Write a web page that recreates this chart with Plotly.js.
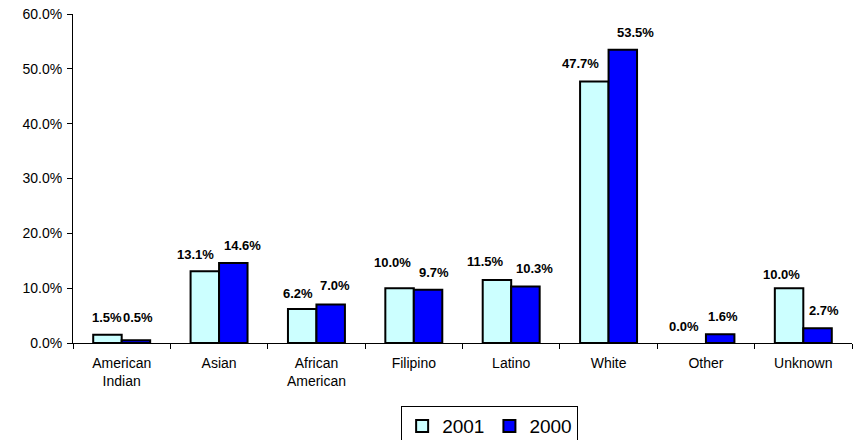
<!DOCTYPE html>
<html>
<head>
<meta charset="utf-8">
<script src="https://cdn.plot.ly/plotly-3.0.1.min.js"></script>
<style>html,body{margin:0;padding:0;background:#fff;}#chart{width:856px;height:440px;}</style>
</head>
<body>
<div id="chart"></div>
<script>
var categories = ["American<br>Indian", "Asian", "African<br>American", "Filipino", "Latino", "White", "Other", "Unknown"];
var series2001 = [1.5, 13.1, 6.2, 10.0, 11.5, 47.7, 0.0, 10.0];
var series2000 = [0.5, 14.6, 7.0, 9.7, 10.3, 53.5, 1.6, 2.7];
var seriesNames = ["2001", "2000"];
var yTickVals = [0, 10, 20, 30, 40, 50, 60];
var yTickText = yTickVals.map(function (v) { return v.toFixed(1) + "%"; });

// label nudges in pixels (style only), as placed in the reference
var labelDx = [[0, -9, -4, -7, -11, -14, -8, -8], [2, 9, 4, 6, 9, 13, 3, 6]];
var labelDy = [[0, 0, -1, 9, 1, 1, 0, -3], [6, 0, 2, 0, 1, 0, 1, 1]];

var colors = ["#CCFFFF", "#0000FF"];
var allSeries = [series2001, series2000];

var traces = allSeries.map(function (vals, k) {
  return {
    type: "bar",
    name: seriesNames[k],
    x: categories,
    y: vals,
    marker: {
      color: colors[k],
      line: { color: "#000000", width: vals.map(function (v) { return v === 0 ? 0 : 2; }) }
    },
    hoverinfo: "skip"
  };
});

var annotations = [];
var barOffset = 0.147;
allSeries.forEach(function (vals, k) {
  vals.forEach(function (v, i) {
    annotations.push({
      x: i + (k === 0 ? -barOffset : barOffset),
      y: v,
      xref: "x",
      yref: "y",
      text: v.toFixed(1) + "%",
      showarrow: false,
      xanchor: "center",
      yanchor: "middle",
      xshift: labelDx[k][i],
      yshift: 17 + labelDy[k][i],
      font: { family: "Liberation Sans, Arial, sans-serif", size: 13, color: "#000000", weight: "bold" }
    });
  });
});

var layout = {
  width: 856,
  height: 440,
  margin: { l: 73, r: 4, t: 14, b: 97 },
  paper_bgcolor: "#ffffff",
  plot_bgcolor: "#ffffff",
  barmode: "group",
  bargap: 0.415,
  bargroupgap: 0,
  font: { family: "Liberation Sans, Arial, sans-serif", size: 14, color: "#000000" },
  showlegend: true,
  legend: {
    orientation: "h",
    xref: "container",
    yref: "container",
    x: 0.572,
    xanchor: "center",
    y: 0.077,
    yanchor: "top",
    bordercolor: "#000000",
    borderwidth: 1,
    font: { size: 19, color: "#000000" },
    itemwidth: 30,
    traceorder: "normal"
  },
  xaxis: {
    type: "category",
    showline: true,
    linecolor: "#000000",
    linewidth: 1,
    ticks: "outside",
    tickson: "boundaries",
    ticklen: 5,
    tickcolor: "#000000",
    ticklabelstandoff: 7,
    showgrid: false,
    zeroline: false,
    automargin: false,
    tickfont: { size: 14, color: "#000000" },
    fixedrange: true
  },
  yaxis: {
    range: [0, 60],
    tickmode: "array",
    tickvals: yTickVals,
    ticktext: yTickText,
    showline: true,
    linecolor: "#000000",
    linewidth: 1,
    ticks: "outside",
    ticklen: 5,
    tickcolor: "#000000",
    ticklabelstandoff: 2,
    showgrid: false,
    zeroline: false,
    automargin: false,
    tickfont: { size: 14, color: "#000000" },
    fixedrange: true
  },
  annotations: annotations
};

Plotly.newPlot("chart", traces, layout, { displayModeBar: false, staticPlot: true });
</script>
</body>
</html>
